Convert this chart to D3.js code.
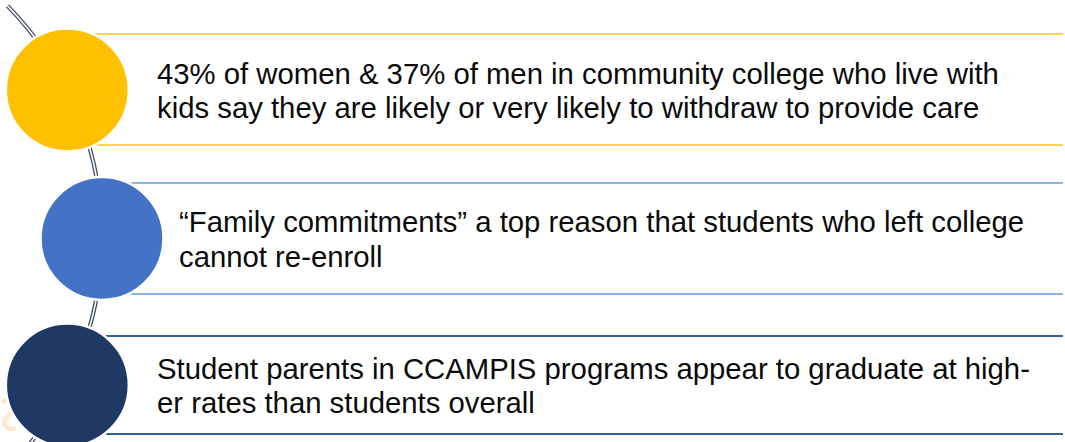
<!DOCTYPE html>
<html><head><meta charset="utf-8">
<script src="https://cdn.jsdelivr.net/npm/d3@7"></script>
<style>html,body{margin:0;padding:0;background:#fff;overflow:hidden}</style>
</head><body>
<svg id="c" width="1065" height="442"></svg>
<script>
const items = ["women", "family", "ccampis"];
const lines1 = [
  "43% of women & 37% of men in community college who live with",
  "\u201CFamily commitments\u201D a top reason that students who left college",
  "Student parents in CCAMPIS programs appear to graduate at high-"
];
const lines2 = [
  "kids say they are likely or very likely to withdraw to provide care",
  "cannot re-enroll",
  "er rates than students overall"
];
const circleColors = ["#FFC000", "#4472C4", "#1F3864"];
const ruleColors = ["#FFD34D", "#8DB3E2", "#36608E"];

const svg = d3.select("#c");

// vertical layout of rows
const y = d3.scalePoint().domain(items).range([90, 385]).padding(0);
// arc the circles sit on
const arcC = {x: -229, y: 237.5}, arcR = 331;
const cxOf = yy => arcC.x + Math.sqrt(arcR*arcR - (yy-arcC.y)*(yy-arcC.y));
const textX = [157, 179, 157];
const rowY = d => d === "family" ? 238.5 : y(d);
const ruleTop = [34, 183, 336];
const ruleBot = [145, 294, 434];

// background arc (double line)
const arc = d3.arc().innerRadius(arcR).outerRadius(arcR)
  .startAngle(Math.PI/2 - 0.775).endAngle(Math.PI/2 + 0.72);
const ag = svg.append("g").attr("transform", `translate(${arcC.x},${arcC.y})`);
ag.append("path").attr("d", arc()).attr("fill","none").attr("stroke","#3E4B60").attr("stroke-width",4.2);
ag.append("path").attr("d", arc()).attr("fill","none").attr("stroke","#ffffff").attr("stroke-width",1.6);

// faint watermark fragment
svg.append("path").attr("d","M2,402 C14,396 18,410 8,416 C0,421 6,432 16,428")
  .attr("fill","none").attr("stroke","#FCE3C2").attr("stroke-width",5).attr("opacity",0.8);

const rows = svg.selectAll("g.row").data(items).join("g").attr("class","row");
rows.each(function(d,i){
  const g = d3.select(this);
  const cy = rowY(d);
  const cx = cxOf(cy);
  [ruleTop[i], ruleBot[i]].forEach(yy => g.append("line")
    .attr("x1", cx).attr("x2", 1063).attr("y1", yy).attr("y2", yy)
    .attr("stroke", ruleColors[i]).attr("stroke-width", 2));
  g.append("circle").attr("cx", cx).attr("cy", cy).attr("r", 61.5)
    .attr("fill", circleColors[i]).attr("stroke","#ffffff").attr("stroke-width",2.5);
  const t = g.append("text").attr("x", textX[i]).attr("y", cy - 6.5)
    .attr("font-family","Liberation Sans, Arial, sans-serif").attr("font-size", 29.3)
    .attr("fill","#0a0a0a");
  t.append("tspan").attr("x", textX[i]).text(lines1[i]);
  t.append("tspan").attr("x", textX[i]).attr("dy", 34.7).text(lines2[i]);
});
</script>
</body></html>
